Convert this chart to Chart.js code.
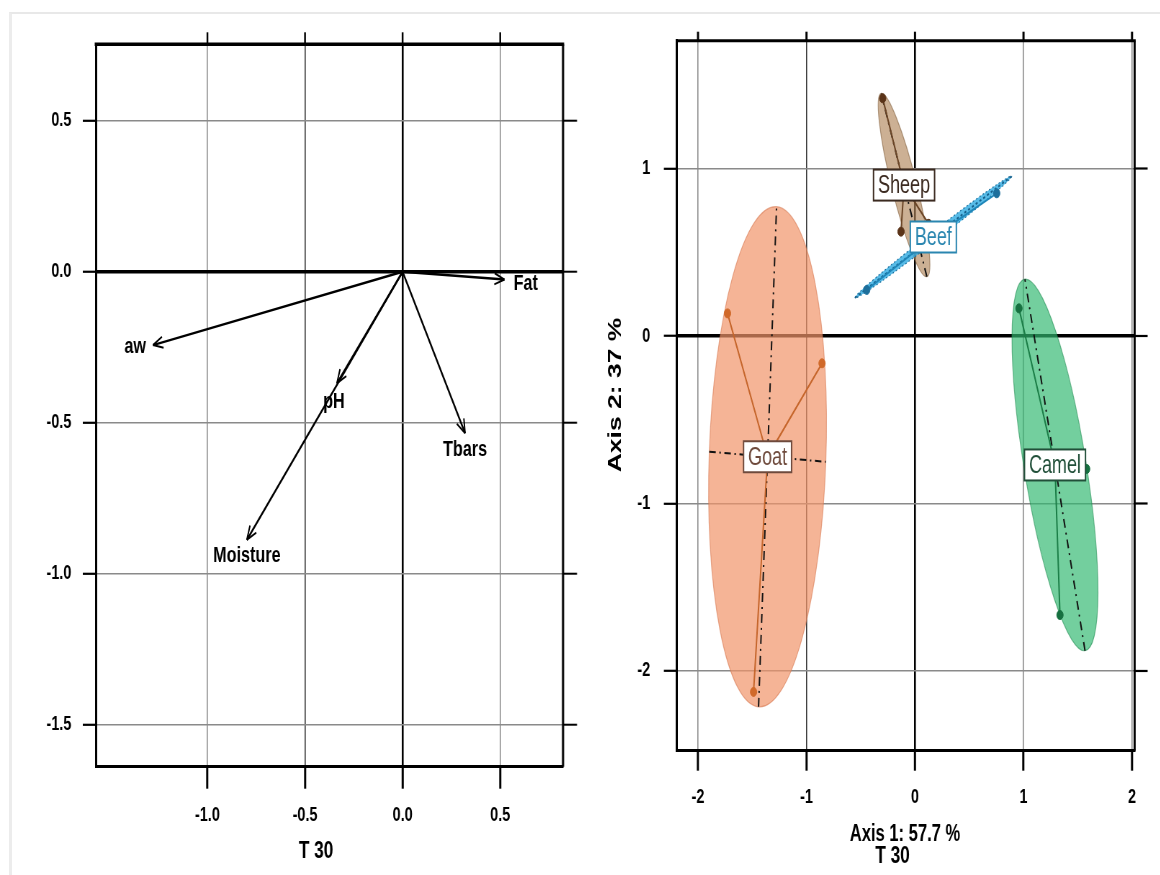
<!DOCTYPE html>
<html>
<head>
<meta charset="utf-8">
<title>T 30</title>
<script src="https://cdn.jsdelivr.net/npm/chart.js@4"></script>
<style>
  body { margin: 0; background: #fff; overflow: hidden; }
  #page { position: relative; width: 1160px; height: 875px; overflow: hidden; background: #fff; }
  #frame { position: absolute; left: 9px; top: 12px; right: -4px; bottom: -4px;
           border-top: 2px solid #e8e8e8; border-left: 3px solid #ececec; }
  /* the original figure is squeezed horizontally, so both canvases are too */
  canvas { position: absolute; top: 0; transform: scaleX(0.72); transform-origin: 0 0; }
  #left { left: 0; }
  #right { left: 590px; }
</style>
</head>
<body>
<div id="page">
  <div id="frame"></div>
  <canvas id="left" width="820" height="875"></canvas>
  <canvas id="right" width="792" height="875"></canvas>
</div>
<script>
// ---- left panel: variables (arrow tips) ----
const varNames = ['Fat', 'aw', 'pH', 'Moisture', 'Tbars'];
const varX = [0.522, -1.279, -0.337, -0.798, 0.32];
const varY = [-0.026, -0.243, -0.370, -0.888, -0.535];
const leftXTicks = [-1.0, -0.5, 0.0, 0.5];
const leftYTicks = [-1.5, -1.0, -0.5, 0.0, 0.5];

// ---- right panel: samples per group ----
const groups = ['Goat', 'Sheep', 'Beef', 'Camel'];
const goatX = [-1.728, -0.857, -1.488];
const goatY = [0.135, -0.163, -2.125];
const sheepX = [-0.298, -0.129, 0.124];
const sheepY = [1.419, 0.623, 0.670];
const beefX = [-0.445, 0.753, 0.199];
const beefY = [0.275, 0.852, 0.646];
const camelX = [0.958, 1.336, 1.582];
const camelY = [0.165, -1.666, -0.794];
// group centres and ellipse half axes (centre -> end of each axis)
const centerX = [-1.359, -0.101, 0.169, 1.290];
const centerY = [-0.721, 0.901, 0.591, -0.770];
const axis1X = [0.083, -0.210, 0.722, -0.277];
const axis1Y = [1.493, 0.547, 0.363, 1.109];
const axis2X = [0.537, 0.112, 0.025, 0.283];
const axis2Y = [-0.030, 0.018, -0.021, 0.026];
const rightXTicks = [-2, -1, 0, 1, 2];
const rightYTicks = [-2, -1, 0, 1];

const SQ = 0.72;   // horizontal squeeze used in the css
const FONT = "'Liberation Sans', Arial, sans-serif";
const px = v => v / SQ;   // page pixels -> canvas pixels (horizontal)

const groupFill = ['rgba(241,148,105,0.70)', 'rgba(176,134,91,0.65)', 'rgba(45,170,225,0.80)', 'rgba(48,184,112,0.68)'];
const groupEdge = ['rgba(215,120,80,0.6)', 'rgba(130,95,60,0.6)', '#1d6f9c', 'rgba(30,140,80,0.6)'];
const groupLine = ['#c5652b', '#6b4526', '#1f86b8', '#1b7d47'];
const groupDot = ['#d0692a', '#5a3318', '#1d6f9c', '#167040'];
const groupText = ['#6e4a3c', '#3b2a20', '#2a86b0', '#214f39'];

function gridOpts(darkVal, tickLen, tickW, zeroW, lineW) {
  return {
    color: c => (c.tick && c.tick.value === 0) ? '#000' : (c.tick && c.tick.value === darkVal ? '#333' : '#8a8a8a'),
    lineWidth: c => (c.tick && c.tick.value === 0) ? zeroW : lineW,
    tickLength: tickLen,
    tickColor: '#000',
    tickWidth: tickW
  };
}
const tickFont = { family: FONT, size: 20, weight: 'bold' };

// ---------- left chart ----------
const leftDecor = {
  id: 'leftDecor',
  afterDatasetsDraw(chart) {
    const { ctx, chartArea: a, scales: { x, y } } = chart;
    ctx.save();
    ctx.strokeStyle = '#000';
    ctx.lineWidth = 3.5;
    ctx.beginPath(); ctx.moveTo(a.left - 1.5, a.top); ctx.lineTo(a.right + 1.5, a.top); ctx.stroke();
    ctx.lineWidth = 3;
    ctx.beginPath(); ctx.moveTo(a.right, a.top); ctx.lineTo(a.right, a.bottom); ctx.stroke();
    // ticks on top and right sides
    ctx.lineWidth = 2.5;
    leftXTicks.forEach(v => {
      const p = x.getPixelForValue(v);
      ctx.beginPath(); ctx.moveTo(p, a.top); ctx.lineTo(p, a.top - 12); ctx.stroke();
    });
    ctx.lineWidth = 2;
    leftYTicks.forEach(v => {
      const p = y.getPixelForValue(v);
      ctx.beginPath(); ctx.moveTo(a.right, p); ctx.lineTo(a.right + px(14), p); ctx.stroke();
    });

    // arrow heads + variable names
    const ox = x.getPixelForValue(0), oy = y.getPixelForValue(0);
    const place = { Fat: ['left', 9, 4], aw: ['right', -7, 2], pH: ['center', -3, 18], Moisture: ['center', 0, 16], Tbars: ['center', 0, 17] };
    ctx.font = `bold 22.5px ${FONT}`;
    ctx.textBaseline = 'middle';
    ctx.fillStyle = '#000';
    varNames.forEach((name, i) => {
      const tx = x.getPixelForValue(varX[i]), ty = y.getPixelForValue(varY[i]);
      const ang = Math.atan2(ty - oy, tx - ox);
      ctx.lineWidth = 2;
      ctx.beginPath();
      [-0.38, 0.38].forEach(d => {
        ctx.moveTo(tx, ty);
        ctx.lineTo(tx - Math.cos(ang + d) * 15, ty - Math.sin(ang + d) * 15);
      });
      ctx.stroke();
      const [al, dx, dy] = place[name];
      ctx.textAlign = al;
      ctx.fillText(name, tx + px(dx), ty + dy);
    });

    ctx.font = `bold 24px ${FONT}`;
    ctx.textAlign = 'center';
    ctx.fillText('T 30', px(316), 851);
    ctx.restore();
  }
};

new Chart(document.getElementById('left'), {
  type: 'scatter',
  data: {
    datasets: varNames.map((name, i) => ({
      label: name,
      data: [{ x: 0, y: 0 }, { x: varX[i], y: varY[i] }],
      showLine: true,
      borderColor: '#000',
      borderWidth: 2.4,
      pointRadius: 0
    }))
  },
  options: {
    responsive: false,
    animation: false,
    events: [],
    layout: { padding: { top: 44.3, right: 38, left: 0, bottom: 0 } },
    plugins: { legend: { display: false }, tooltip: { enabled: false } },
    scales: {
      x: {
        type: 'linear', min: -1.572, max: 0.822,
        afterBuildTicks: s => { s.ticks = leftXTicks.map(v => ({ value: v })); },
        afterFit: s => { s.height = 108.3; },
        ticks: { callback: v => v.toFixed(1), font: tickFont, color: '#000', padding: 15, autoSkip: false, maxRotation: 0 },
        grid: gridOpts(-0.5, 22, 3, 2.6, 1.6),
        border: { color: '#000', width: 3 }
      },
      y: {
        type: 'linear', min: -1.639, max: 0.753,
        afterBuildTicks: s => { s.ticks = leftYTicks.map(v => ({ value: v })); },
        afterFit: s => { s.width = 133; },
        ticks: { callback: v => v.toFixed(1), font: tickFont, color: '#000', padding: 16, autoSkip: false },
        grid: gridOpts(null, 18, 2.2, 3.5, 1.6),
        border: { color: '#000', width: 3 }
      }
    }
  },
  plugins: [leftDecor]
});

// ---------- right chart ----------
const groupX = [goatX, sheepX, beefX, camelX];
const groupY = [goatY, sheepY, beefY, camelY];

const rightDecor = {
  id: 'rightDecor',
  beforeDatasetsDraw(chart) {
    const { ctx, scales: { x, y } } = chart;
    ctx.save();
    groups.forEach((g, i) => {
      const c = [x.getPixelForValue(centerX[i]), y.getPixelForValue(centerY[i])];
      const a = [x.getPixelForValue(centerX[i] + axis1X[i]) - c[0], y.getPixelForValue(centerY[i] + axis1Y[i]) - c[1]];
      const b = [x.getPixelForValue(centerX[i] + axis2X[i]) - c[0], y.getPixelForValue(centerY[i] + axis2Y[i]) - c[1]];
      ctx.save();
      ctx.transform(a[0], a[1], b[0], b[1], c[0], c[1]);
      ctx.beginPath();
      ctx.arc(0, 0, 1, 0, Math.PI * 2);
      ctx.restore();
      ctx.fillStyle = groupFill[i];
      ctx.fill();
      ctx.strokeStyle = groupEdge[i];
      ctx.lineWidth = 1.2;
      if (i === 2) ctx.setLineDash([2, 3]);
      ctx.stroke();
      // ellipse axes
      ctx.setLineDash(i === 2 ? [3, 3] : [9, 5, 2, 5]);
      ctx.strokeStyle = i === 2 ? '#17618c' : '#111';
      ctx.lineWidth = 2;
      ctx.beginPath();
      ctx.moveTo(c[0] - a[0], c[1] - a[1]); ctx.lineTo(c[0] + a[0], c[1] + a[1]);
      ctx.moveTo(c[0] - b[0], c[1] - b[1]); ctx.lineTo(c[0] + b[0], c[1] + b[1]);
      ctx.stroke();
      ctx.setLineDash([]);
    });
    ctx.restore();
  },
  afterDatasetsDraw(chart) {
    const { ctx, chartArea: a, scales: { x, y } } = chart;
    ctx.save();
    // group labels
    ctx.font = `25px ${FONT}`;
    ctx.textAlign = 'center';
    ctx.textBaseline = 'middle';
    groups.forEach((g, i) => {
      const cx = x.getPixelForValue(centerX[i]), cy = y.getPixelForValue(centerY[i]);
      const w = ctx.measureText(g).width + px(9), h = 31;
      ctx.fillStyle = '#fff';
      ctx.fillRect(cx - w / 2, cy - h / 2, w, h);
      ctx.strokeStyle = groupText[i];
      ctx.lineWidth = 2;
      ctx.strokeRect(cx - w / 2, cy - h / 2, w, h);
      ctx.fillStyle = groupText[i];
      ctx.fillText(g, cx, cy + 1);
    });

    // top / right frame and ticks
    ctx.strokeStyle = '#000';
    ctx.lineWidth = 3;
    ctx.beginPath(); ctx.moveTo(a.left - 1.5, a.top); ctx.lineTo(a.right + 1.5, a.top); ctx.stroke();
    ctx.beginPath(); ctx.moveTo(a.right, a.top); ctx.lineTo(a.right, a.bottom); ctx.stroke();
    ctx.lineWidth = 3;
    rightXTicks.forEach(v => {
      const p = x.getPixelForValue(v);
      ctx.beginPath(); ctx.moveTo(p, a.top); ctx.lineTo(p, a.top - 9); ctx.stroke();
    });
    ctx.lineWidth = 2.2;
    rightYTicks.forEach(v => {
      const p = y.getPixelForValue(v);
      ctx.beginPath(); ctx.moveTo(a.right, p); ctx.lineTo(a.right + px(13), p); ctx.stroke();
    });

    // axis titles
    ctx.fillStyle = '#000';
    ctx.font = `bold 23px ${FONT}`;
    ctx.fillText('Axis 1: 57.7 %', px(315), 835);
    ctx.font = `bold 24px ${FONT}`;
    ctx.fillText('T 30', px(302.5), 856);
    ctx.save();
    ctx.translate(px(26), 395);
    ctx.rotate(-Math.PI / 2);
    ctx.font = `bold 26.5px ${FONT}`;
    ctx.fillText('Axis 2: 37 %', 0, 0);
    ctx.restore();
    ctx.restore();
  }
};

const pointSets = groups.map((g, i) => ({
  label: g,
  order: 0,
  data: groupX[i].map((v, k) => ({ x: v, y: groupY[i][k] })),
  pointRadius: 4.5,
  pointBackgroundColor: groupDot[i],
  pointBorderColor: groupDot[i],
  pointBorderWidth: 1
}));
const starSets = groups.map((g, i) => ({
  label: g + ' links',
  order: 1,
  showLine: true,
  pointRadius: 0,
  borderColor: groupLine[i],
  borderWidth: 2,
  borderJoinStyle: 'round',
  data: groupX[i].flatMap((v, k) => [{ x: v, y: groupY[i][k] }, { x: centerX[i], y: centerY[i] }])
}));

new Chart(document.getElementById('right'), {
  type: 'scatter',
  data: { datasets: pointSets.concat(starSets) },
  options: {
    responsive: false,
    animation: false,
    events: [],
    layout: { padding: { top: 40.7, right: 35.6, left: 0, bottom: 0 } },
    plugins: { legend: { display: false }, tooltip: { enabled: false } },
    scales: {
      x: {
        type: 'linear', min: -2.195, max: 2.024,
        afterBuildTicks: s => { s.ticks = rightXTicks.map(v => ({ value: v })); },
        afterFit: s => { s.height = 124.3; },
        ticks: { callback: v => String(v), font: tickFont, color: '#000', padding: 15, autoSkip: false, maxRotation: 0 },
        grid: gridOpts(-1, 20, 3, 2.6, 1.6),
        border: { color: '#000', width: 3 }
      },
      y: {
        type: 'linear', min: -2.476, max: 1.763,
        afterBuildTicks: s => { s.ticks = rightYTicks.map(v => ({ value: v })); },
        afterFit: s => { s.width = 120.6; },
        ticks: { callback: v => String(v), font: tickFont, color: '#000', padding: 19, autoSkip: false },
        grid: gridOpts(null, 18, 2.2, 3.5, 1.6),
        border: { color: '#000', width: 3 }
      }
    }
  },
  plugins: [rightDecor]
});
</script>
</body>
</html>
